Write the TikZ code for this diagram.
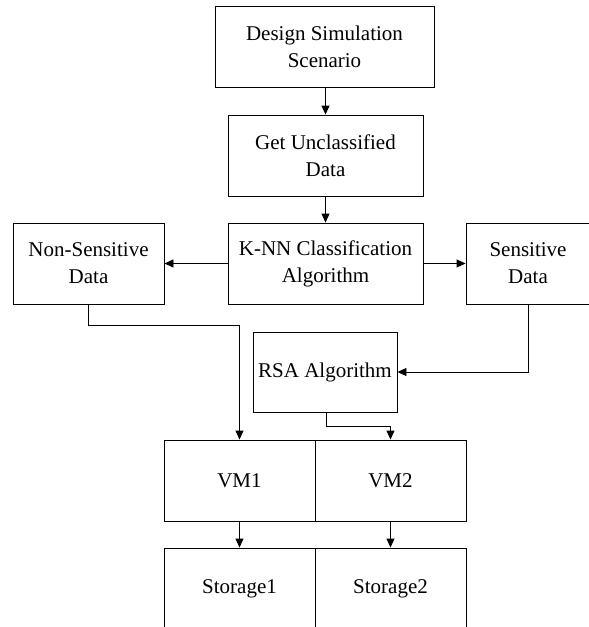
\documentclass[tikz,border=0pt]{standalone}
\usepackage{fontspec}
\setmainfont{Liberation Serif}
\usetikzlibrary{arrows.meta}
\begin{document}
\begin{tikzpicture}[x=1pt,y=-1pt,
  box/.style={draw, line width=0.9pt, inner sep=0pt, align=center,
    font=\fontsize{21}{27}\selectfont, minimum height=81pt},
  conn/.style={line width=0.9pt},
  arr/.style={conn, -{Triangle[length=9pt,width=8pt]}}]
\useasboundingbox (0,0) rectangle (589,627);
\node[box, minimum width=219pt] (design) at (324.5,46.5) {Design Simulation\\Scenario};
\node[box, minimum width=195pt] (get) at (325.5,155.5) {Get Unclassified\\Data};
\node[box, minimum width=195pt] (knn) at (325.5,263.5) {K-NN Classification\\Algorithm};
\node[box, minimum width=151pt] (nons) at (88.5,263.5) {Non-Sensitive\\Data};
\node[box, minimum width=124pt] (sens) at (528,263.5) {Sensitive\\Data};
\node[box, minimum width=144pt, minimum height=80pt] (rsa) at (325,372) {RSA Algorithm};
\node[box, minimum width=151pt] (vm1) at (239.5,480.5) {VM1};
\node[box, minimum width=151pt] (vm2) at (390.5,480.5) {VM2};
\node[box, minimum width=151pt] (st1) at (239.5,588.5) {Storage1};
\node[box, minimum width=151pt] (st2) at (390.5,588.5) {Storage2};
\draw[arr] (design.south -| get.north) -- (get.north);
\draw[arr] (get.south) -- (knn.north);
\draw[arr] (knn.west) -- (nons.east);
\draw[arr] (knn.east) -- (sens.west);
\draw[arr] (nons.south) -- ++(0,21) -| (vm1.north);
\draw[arr] (sens.south) |- (rsa.east);
\draw[arr] ([xshift=1pt]rsa.south) -- ++(0,14) -| (vm2.north);
\draw[arr] (vm1.south) -- (st1.north);
\draw[arr] (vm2.south) -- (st2.north);
\end{tikzpicture}
\end{document}
